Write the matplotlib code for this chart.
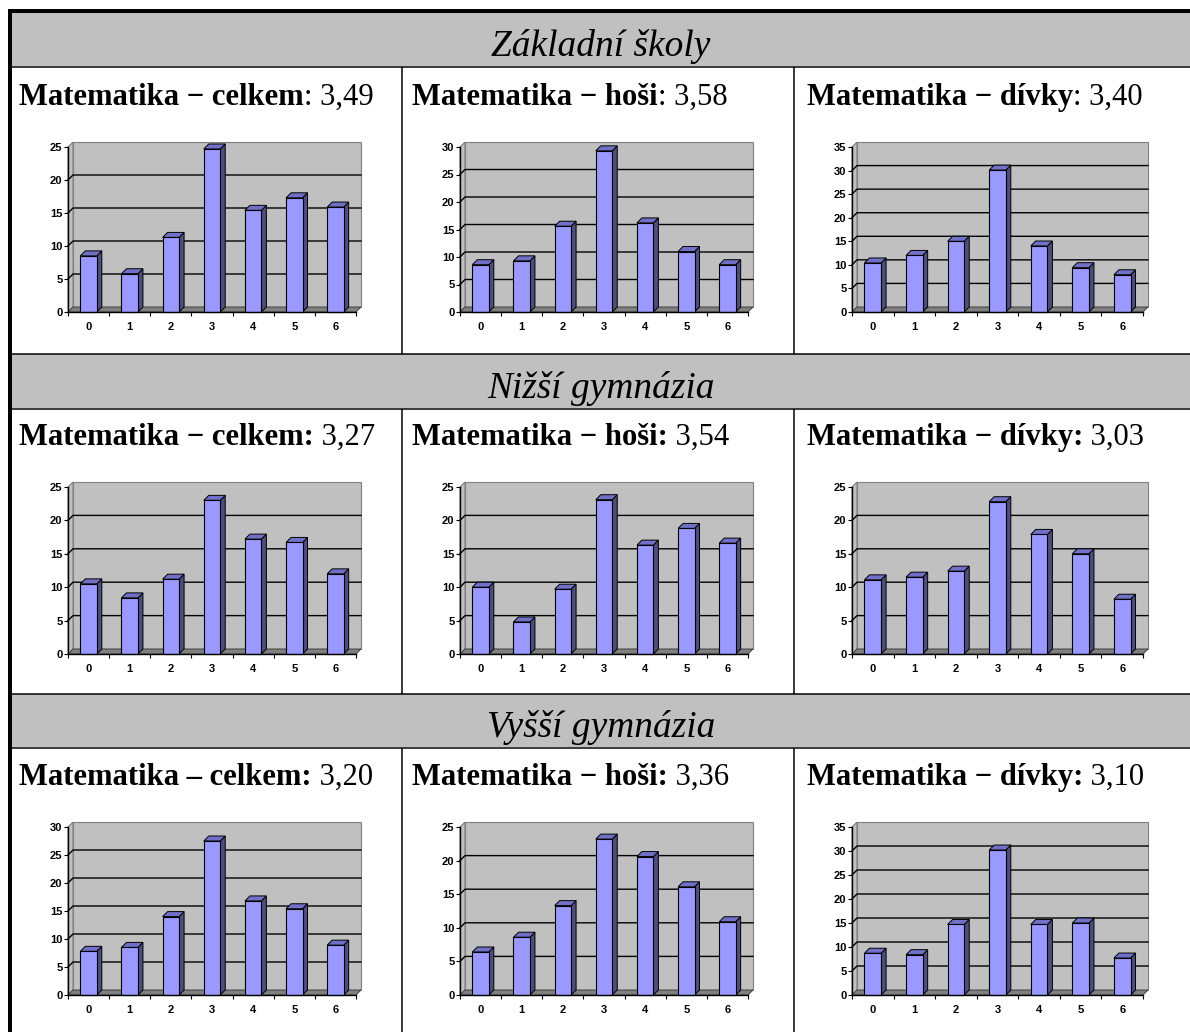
import numpy as np
import matplotlib
matplotlib.use('Agg')
import matplotlib.pyplot as plt
from matplotlib.patches import Polygon, Rectangle

# score categories on the x axis (0-6 points)
scores = [0, 1, 2, 3, 4, 5, 6]

# share of pupils (%) per score
zs_celkem = [8.5, 5.8, 11.3, 24.7, 15.4, 17.3, 15.9]
zs_hosi = [8.6, 9.3, 15.6, 29.3, 16.2, 11.0, 8.6]
zs_divky = [10.4, 12.0, 15.0, 30.1, 14.0, 9.4, 7.9]
ng_celkem = [10.5, 8.4, 11.2, 23.0, 17.2, 16.7, 12.0]
ng_hosi = [10.0, 4.8, 9.7, 23.1, 16.3, 18.8, 16.6]
ng_divky = [11.1, 11.5, 12.4, 22.8, 17.9, 15.0, 8.2]
vg_celkem = [7.8, 8.5, 14.0, 27.5, 16.8, 15.4, 8.9]
vg_hosi = [6.4, 8.6, 13.3, 23.2, 20.6, 16.1, 10.9]
vg_divky = [8.7, 8.4, 14.7, 30.2, 14.7, 15.0, 7.7]

school_types = ['Základní školy', 'Nižší gymnázia', 'Vyšší gymnázia']

# bold / regular parts of each cell caption
zs_titles = [('Matematika − celkem', ': 3,49'), ('Matematika − hoši', ': 3,58'),
             ('Matematika − dívky', ': 3,40')]
ng_titles = [('Matematika − celkem:', ' 3,27'), ('Matematika − hoši:', ' 3,54'),
             ('Matematika − dívky:', ' 3,03')]
vg_titles = [('Matematika – celkem:', ' 3,20'), ('Matematika − hoši:', ' 3,36'),
             ('Matematika − dívky:', ' 3,10')]

zs_ymax = [25, 30, 35]
ng_ymax = [25, 25, 25]
vg_ymax = [30, 25, 35]

rows = [
    ([zs_celkem, zs_hosi, zs_divky], zs_titles, zs_ymax),
    ([ng_celkem, ng_hosi, ng_divky], ng_titles, ng_ymax),
    ([vg_celkem, vg_hosi, vg_divky], vg_titles, vg_ymax),
]

W_PX, H_PX = 1190, 1032
GRAY = '#c0c0c0'
SERIF = ['Liberation Serif', 'DejaVu Serif']
TICK_FONT = ['Liberation Sans Narrow', 'Liberation Sans', 'DejaVu Sans']

# table geometry (pixels from top-left)
header_rows = [(13, 66), (354, 408), (694, 747)]
cell_rows = [(67, 354), (409, 694), (748, 1032)]
col_edges = [12, 402, 794, W_PX]
title_x = [19, 412, 807]
title_base = [105, 445, 785]
chart_left = [68, 460, 852]
chart_width = [288, 288, 291]
chart_top = [147, 487, 827]
chart_bottom = [312, 654, 995]
DEPTH = 5


def draw_chart(ax, values, ymax, w_px, h_px):
    n = len(values)
    x0, x1 = -0.5, n - 0.5
    ax.set_xlim(x0, x1)
    ax.set_ylim(0, ymax)
    dx = DEPTH * (x1 - x0) / w_px
    dy = DEPTH * ymax / h_px

    # back and side walls
    ax.add_patch(Rectangle((x0 + dx, dy), x1 - x0, ymax, fc=GRAY, ec='#808080',
                           lw=0.8, clip_on=False, zorder=0.5))
    ax.add_patch(Polygon([(x0, 0), (x0 + dx, dy), (x0 + dx, ymax + dy), (x0, ymax)],
                         closed=True, fc=GRAY, ec='#808080', lw=0.8,
                         clip_on=False, zorder=0.6))
    for y in range(5, ymax, 5):
        ax.plot([x0, x0 + dx, x1 + dx], [y, y + dy, y + dy], color='black',
                lw=1.0, clip_on=False, zorder=0.7)
    # floor
    ax.add_patch(Polygon([(x0, 0), (x1, 0), (x1 + dx, dy), (x0 + dx, dy)],
                         closed=True, fc='#808080', ec='#333333', lw=0.6,
                         clip_on=False, zorder=0.8))

    half = 0.2
    for i, v in zip(scores, values):
        l, r = i - half, i + half
        ax.add_patch(Polygon([(r, 0), (r + dx, dy), (r + dx, v + dy), (r, v)],
                             closed=True, fc='#4d4d80', ec='black', lw=0.7,
                             clip_on=False, zorder=1))
        ax.add_patch(Polygon([(l, v), (r, v), (r + dx, v + dy), (l + dx, v + dy)],
                             closed=True, fc='#7070c8', ec='black', lw=0.7,
                             clip_on=False, zorder=1))
        ax.add_patch(Rectangle((l, 0), 2 * half, v, fc='#9999ff', ec='black',
                               lw=0.8, clip_on=False, zorder=1.1))

    ax.patch.set_visible(False)
    for side in ['top', 'right']:
        ax.spines[side].set_visible(False)
    for side in ['left', 'bottom']:
        ax.spines[side].set_linewidth(1.0)
        ax.spines[side].set_zorder(2)

    ax.set_yticks(range(0, ymax + 1, 5))
    ax.set_xticks(scores)
    ax.set_xticks(np.arange(x0, x1 + 0.01, 1), minor=True)
    ax.tick_params(axis='y', direction='out', length=3, width=0.8, pad=1)
    ax.tick_params(axis='x', which='major', length=0, pad=7)
    ax.tick_params(axis='x', which='minor', direction='out', length=3, width=0.8)
    for lbl in ax.get_xticklabels() + ax.get_yticklabels():
        lbl.set_fontfamily(TICK_FONT)
        lbl.set_fontweight('bold')
        lbl.set_fontsize(8)


fig = plt.figure(figsize=(W_PX / 100, H_PX / 100), dpi=100)
fig.patch.set_facecolor('white')

bg = fig.add_axes([0, 0, 1, 1])
bg.set_xlim(0, W_PX)
bg.set_ylim(H_PX, 0)
bg.axis('off')

# header bands
for top, bot in header_rows:
    bg.add_patch(Rectangle((12, top), W_PX - 12, bot - top, fc=GRAY, ec='none'))

lw_thin = 1.5 * 0.72
for y in [67, 353.5, 409, 694, 748]:
    bg.plot([12, W_PX], [y, y], color='black', lw=lw_thin, solid_capstyle='butt')
for x in col_edges[1:3]:
    for top, bot in cell_rows:
        bg.plot([x, x], [top, bot], color='black', lw=lw_thin, solid_capstyle='butt')
# thick outer frame (top and left)
bg.add_patch(Rectangle((8, 9), W_PX - 8, 4, fc='black', ec='none'))
bg.add_patch(Rectangle((8, 9), 4, H_PX - 9, fc='black', ec='none'))

renderer = fig.canvas.get_renderer()


def text_width(s, **kw):
    t = bg.text(0, 0, s, **kw)
    w = t.get_window_extent(renderer).width
    t.remove()
    return w


ref_size = 20
w_head = text_width(school_types[0], fontsize=ref_size, family=SERIF, style='italic')
head_size = ref_size * 219 / w_head
w_title = (text_width(zs_titles[0][0], fontsize=ref_size, family=SERIF, weight='bold')
           + text_width(zs_titles[0][1], fontsize=ref_size, family=SERIF))
title_size = ref_size * 355 / w_title

for r, (series, titles, ymaxes) in enumerate(rows):
    top, bot = header_rows[r]
    bg.text(601, bot - 10, school_types[r], fontsize=head_size, family=SERIF,
            style='italic', ha='center', va='baseline')
    for c in range(3):
        bold, rest = titles[c]
        x = title_x[c]
        y = title_base[r]
        t = bg.text(x, y, bold, fontsize=title_size, family=SERIF, weight='bold',
                    va='baseline')
        wb = t.get_window_extent(renderer).width
        bg.text(x + wb, y, rest, fontsize=title_size, family=SERIF, va='baseline')

        w_px = chart_width[c]
        h_px = chart_bottom[r] - chart_top[r]
        ax = fig.add_axes([chart_left[c] / W_PX, 1 - chart_bottom[r] / H_PX,
                           w_px / W_PX, h_px / H_PX])
        draw_chart(ax, series[c], ymaxes[c], w_px, h_px)

fig.savefig('out.png', dpi=100)
